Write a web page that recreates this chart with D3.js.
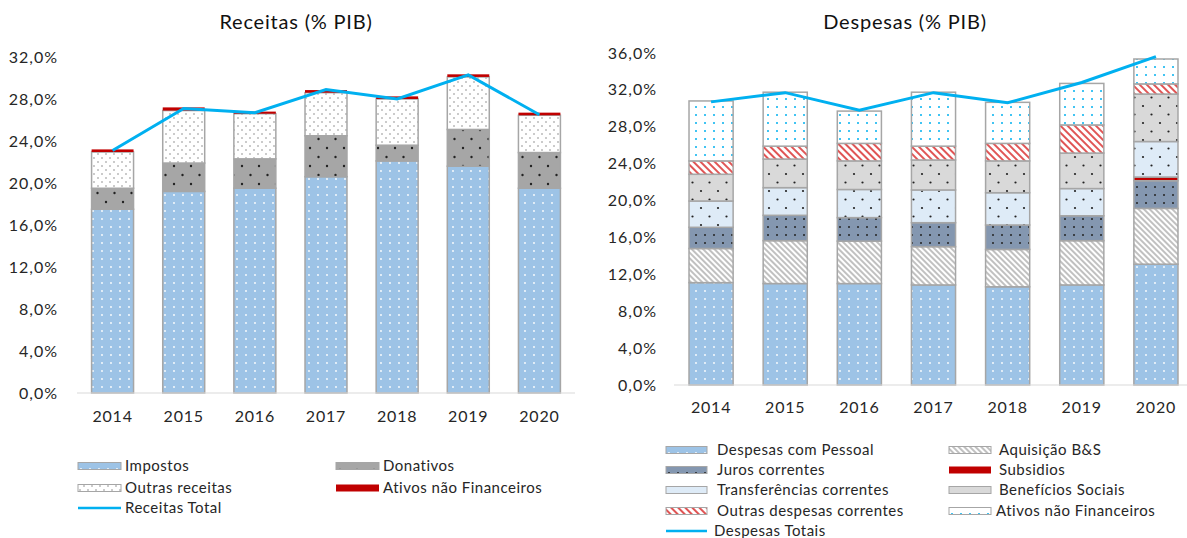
<!DOCTYPE html>
<html>
<head>
<meta charset="utf-8">
<script src="https://cdn.jsdelivr.net/npm/d3@7"></script>
<style>
  body { margin: 0; background: #fff; }
  svg { display: block; font-family: Lato, "Open Sans", sans-serif; }
</style>
</head>
<body>
<svg id="chart" width="1187" height="538"></svg>
<script>
// ---- data (% PIB) ----
const years = ["2014", "2015", "2016", "2017", "2018", "2019", "2020"];

// Receitas
const impostos      = [17.5, 19.2, 19.5, 20.6, 22.1, 21.6, 19.5];
const donativos     = [2.0, 2.7, 2.8, 3.9, 1.5, 3.5, 3.4];
const outrasRec     = [3.45, 5.0, 4.3, 4.1, 4.4, 5.0, 3.55];
const ativosRec     = [0.25, 0.3, 0.2, 0.25, 0.25, 0.25, 0.25];
const receitasTotal = [23.1, 27.1, 26.7, 28.9, 28.0, 30.3, 26.5];

// Despesas
const pessoal       = [11.1, 11.0, 11.0, 10.85, 10.65, 10.85, 13.1];
const aquisicao     = [3.7, 4.65, 4.6, 4.15, 4.05, 4.8, 6.05];
const juros         = [2.3, 2.75, 2.55, 2.6, 2.65, 2.7, 3.0];
const subsidios     = [0, 0, 0, 0, 0, 0, 0.4];
const transferencias = [2.85, 3.0, 3.05, 3.55, 3.5, 2.95, 3.85];
const beneficios    = [2.9, 3.1, 3.1, 3.25, 3.45, 3.85, 5.15];
const outrasDesp    = [1.45, 1.4, 1.9, 1.5, 1.9, 3.05, 1.1];
const ativosDesp    = [6.5, 5.85, 3.5, 5.85, 4.45, 4.5, 2.7];
const despesasTotal = [30.7, 31.7, 29.8, 31.7, 30.6, 32.8, 35.6];

const svg = d3.select("#chart");
const defs = svg.append("defs");

// ---- fill patterns ----
function dotPattern(id, bg, dot, w, h, pts, r) {
    const p = defs.append("pattern").attr("id", id)
        .attr("patternUnits", "userSpaceOnUse")
        .attr("width", w).attr("height", h);
    p.append("rect").attr("width", w).attr("height", h).attr("fill", bg);
    pts.forEach(([x, y]) => p.append("circle").attr("cx", x).attr("cy", y).attr("r", r).attr("fill", dot));
}
function hatchPattern(id, color, gap, sw) {
    const p = defs.append("pattern").attr("id", id)
        .attr("patternUnits", "userSpaceOnUse")
        .attr("width", gap).attr("height", gap)
        .attr("patternTransform", "rotate(-45)");
    p.append("rect").attr("width", gap).attr("height", gap).attr("fill", "#fff");
    p.append("line").attr("x1", 1).attr("y1", 0).attr("x2", 1).attr("y2", gap)
        .attr("stroke", color).attr("stroke-width", sw);
}

dotPattern("p-blue", "#9dc3e6", "#fff", 9, 8, [[3, 3]], 0.9);
dotPattern("p-gray", "#a6a6a6", "#222", 17, 18, [[4, 4], [12.5, 13]], 1.2);
dotPattern("p-white", "#fff", "#8a8a8a", 8, 8, [[2, 2], [6, 6]], 0.8);
dotPattern("p-juros", "#8497b0", "#222", 9, 8, [[3, 3]], 1.0);
dotPattern("p-transf", "#deebf7", "#222", 17, 17, [[4, 4], [12.5, 12.5]], 1.1);
dotPattern("p-benef", "#d9d9d9", "#222", 17, 17, [[4, 4], [12.5, 12.5]], 1.1);
dotPattern("p-cyan", "#fff", "#00b0f0", 9, 8, [[3, 3]], 1.0);
hatchPattern("p-aq", "#a6a6a6", 4, 1.4);
hatchPattern("p-outras", "#e05555", 5, 2);

const fmt = d => d3.format(".1f")(d).replace(".", ",") + "%";

function drawChart(cfg) {
    const g = svg.append("g");

    const x = d3.scaleBand().domain(years)
        .range(cfg.xRange).paddingInner(cfg.pad).paddingOuter(cfg.pad / 2);
    const y = d3.scaleLinear().domain([0, cfg.yMax]).range(cfg.yRange);

    // y tick labels
    g.selectAll(".ytick").data(d3.range(0, cfg.yMax + 0.01, 4))
        .join("text")
        .attr("x", cfg.yLabelX).attr("y", d => y(d) + 5.5)
        .attr("text-anchor", "end")
        .attr("font-size", 16).attr("letter-spacing", 1).attr("fill", "#262626")
        .text(fmt);

    // stacked bars
    const keys = cfg.series.map(s => s.key);
    const rows = years.map((yr, i) => {
        const o = { year: yr };
        cfg.series.forEach(s => o[s.key] = s.values[i]);
        return o;
    });
    const stacked = d3.stack().keys(keys)(rows);

    g.selectAll(".layer").data(stacked)
        .join("g")
        .each(function(layer, li) {
            const s = cfg.series[li];
            d3.select(this).selectAll("rect").data(layer)
                .join("rect")
                .attr("x", d => x(d.data.year))
                .attr("width", x.bandwidth())
                .attr("y", d => y(d[1]))
                .attr("height", d => Math.max(0, y(d[0]) - y(d[1])))
                .attr("fill", s.fill)
                .attr("stroke", s.noStroke ? "none" : "#a6a6a6")
                .attr("stroke-width", s.noStroke ? 0 : 1.5);
        });

    // axis baseline
    g.append("line")
        .attr("x1", cfg.xRange[0]).attr("x2", cfg.axisEnd)
        .attr("y1", y(0)).attr("y2", y(0))
        .attr("stroke", "#d9d9d9").attr("stroke-width", 1.2);

    // x labels
    g.selectAll(".xtick").data(years)
        .join("text")
        .attr("x", d => x(d) + x.bandwidth() / 2)
        .attr("y", cfg.xLabelY)
        .attr("text-anchor", "middle")
        .attr("font-size", 16).attr("letter-spacing", 0.8).attr("fill", "#262626")
        .text(d => d);

    // total line
    const line = d3.line()
        .x((d, i) => x(years[i]) + x.bandwidth() / 2)
        .y(d => y(d));
    g.append("path").datum(cfg.total)
        .attr("d", line)
        .attr("fill", "none")
        .attr("stroke", "#00b0f0")
        .attr("stroke-width", 3);

    // title
    g.append("text")
        .attr("x", cfg.titleX).attr("y", 29)
        .attr("text-anchor", "middle")
        .attr("font-size", 20).attr("letter-spacing", 0.8).attr("fill", "#111")
        .text(cfg.title);

    // legend
    cfg.legend.forEach(l => {
        const lg = g.append("g").attr("transform", `translate(${l.x},${l.y})`);
        if (l.line) {
            lg.append("line").attr("x1", 0).attr("x2", l.w).attr("y1", 0).attr("y2", 0)
                .attr("stroke", "#00b0f0").attr("stroke-width", 2.5);
        } else {
            lg.append("rect").attr("x", 0).attr("y", -3.5).attr("width", l.w).attr("height", 7)
                .attr("fill", l.fill)
                .attr("stroke", l.noStroke ? "none" : "#a6a6a6").attr("stroke-width", 1);
        }
        lg.append("text").attr("x", l.tx).attr("y", 5)
            .attr("font-size", 15).attr("letter-spacing", 0.5).attr("fill", "#262626")
            .text(l.label);
    });
}

// Receitas
drawChart({
    title: "Receitas (% PIB)", titleX: 296,
    xRange: [77, 575], axisEnd: 575, pad: 0.41,
    yRange: [393, 57], yMax: 32, yLabelX: 58, xLabelY: 422,
    series: [
        { key: "impostos", values: impostos, fill: "url(#p-blue)" },
        { key: "donativos", values: donativos, fill: "url(#p-gray)" },
        { key: "outras", values: outrasRec, fill: "url(#p-white)" },
        { key: "ativos", values: ativosRec, fill: "#c00000", noStroke: true }
    ],
    total: receitasTotal,
    legend: [
        { x: 78, y: 466, w: 43, tx: 47, fill: "url(#p-blue)", label: "Impostos" },
        { x: 336, y: 466, w: 43, tx: 47, fill: "url(#p-gray)", label: "Donativos" },
        { x: 78, y: 488, w: 43, tx: 47, fill: "url(#p-white)", label: "Outras receitas" },
        { x: 336, y: 488, w: 43, tx: 47, fill: "#c00000", noStroke: true, label: "Ativos não Financeiros" },
        { x: 78, y: 508, w: 43, tx: 47, line: true, label: "Receitas Total" }
    ]
});

// Despesas
drawChart({
    title: "Despesas (% PIB)", titleX: 905,
    xRange: [674, 1193], axisEnd: 1187, pad: 0.405,
    yRange: [385, 53], yMax: 36, yLabelX: 657, xLabelY: 413,
    series: [
        { key: "pessoal", values: pessoal, fill: "url(#p-blue)" },
        { key: "aquisicao", values: aquisicao, fill: "url(#p-aq)" },
        { key: "juros", values: juros, fill: "url(#p-juros)" },
        { key: "subsidios", values: subsidios, fill: "#c00000" },
        { key: "transf", values: transferencias, fill: "url(#p-transf)" },
        { key: "benef", values: beneficios, fill: "url(#p-benef)" },
        { key: "outras", values: outrasDesp, fill: "url(#p-outras)" },
        { key: "ativos", values: ativosDesp, fill: "url(#p-cyan)" }
    ],
    total: despesasTotal,
    legend: [
        { x: 666, y: 450, w: 41, tx: 51, fill: "url(#p-blue)", label: "Despesas com Pessoal" },
        { x: 949, y: 450, w: 42, tx: 50, fill: "url(#p-aq)", label: "Aquisição B&S" },
        { x: 666, y: 470, w: 41, tx: 51, fill: "url(#p-juros)", label: "Juros correntes" },
        { x: 949, y: 470, w: 42, tx: 50, fill: "#c00000", noStroke: true, label: "Subsidios" },
        { x: 666, y: 490, w: 41, tx: 51, fill: "url(#p-transf)", label: "Transferências correntes" },
        { x: 949, y: 490, w: 42, tx: 50, fill: "url(#p-benef)", label: "Benefícios Sociais" },
        { x: 666, y: 511, w: 41, tx: 51, fill: "url(#p-outras)", label: "Outras despesas correntes" },
        { x: 949, y: 511, w: 42, tx: 47, fill: "url(#p-cyan)", label: "Ativos não Financeiros" },
        { x: 666, y: 531, w: 41, tx: 48, line: true, label: "Despesas Totais" }
    ]
});
</script>
</body>
</html>
